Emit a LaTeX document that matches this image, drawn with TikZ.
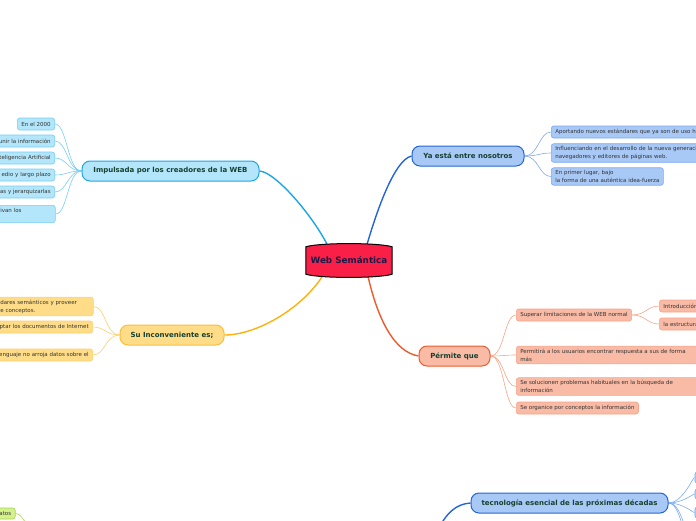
\documentclass[tikz,border=0pt]{standalone}
\usepackage{fontspec}
\setmainfont{DejaVu Sans}
\usetikzlibrary{backgrounds}
\definecolor{impfill}{HTML}{B3E6FB}
\definecolor{impline}{HTML}{1EA5E6}
\definecolor{impsub}{HTML}{76CFF3}
\definecolor{yafill}{HTML}{A8C8F6}
\definecolor{yaline}{HTML}{2466D8}
\definecolor{yasub}{HTML}{7EA9EE}
\definecolor{sufill}{HTML}{FFDD88}
\definecolor{suline}{HTML}{FFB10A}
\definecolor{sudraw}{HTML}{F8BE3C}
\definecolor{susub}{HTML}{FBD070}
\definecolor{pefill}{HTML}{F9BBA6}
\definecolor{peline}{HTML}{EE5A2A}
\definecolor{pesub}{HTML}{F7A487}
\definecolor{grfill}{HTML}{D5F18C}
\definecolor{grline}{HTML}{A2D64E}
\definecolor{wsfill}{HTML}{F91F47}
\definecolor{wstext}{HTML}{1A1A4A}
\definecolor{maintext}{HTML}{16402F}
\definecolor{subtext}{HTML}{333333}
\tikzset{
  mainbox/.style={draw, line width=1pt, rounded corners=8pt, minimum height=20pt,
    inner xsep=4pt, font=\fontsize{7}{8.4}\selectfont\bfseries, text=maintext},
  subbox/.style={draw, line width=0.6pt, rounded corners=2.5pt, minimum height=12pt,
    inner xsep=4pt, inner ysep=2.6pt, font=\fontsize{5.5}{8}\selectfont, text=subtext, align=left},
  impc/.style={subbox, fill=impfill, draw=impsub},
  yac/.style={subbox, fill=yafill, draw=yasub},
  suc/.style={subbox, fill=sufill, draw=susub},
  pec/.style={subbox, fill=pefill, draw=pesub},
  grc/.style={subbox, fill=grfill, draw=grline},
  mainconn/.style={line width=1.4pt},
  subconn/.style={line width=0.6pt},
  wsnode/.style={minimum width=86pt, minimum height=33pt, inner sep=0pt,
    font=\fontsize{8.8}{10}\selectfont\bfseries, text=wstext}
}
\begin{document}
\begin{tikzpicture}[x=1pt,y=-1pt]
\useasboundingbox (0,0) rectangle (696,520);
% central node
\node[wsnode] (ws) at (349,260.5) {Web Semántica};
% main nodes
\node[mainbox, fill=impfill, draw=impline, minimum width=177pt] (imp) at (170.5,171) {Impulsada por los creadores de la WEB};
\node[mainbox, fill=yafill, draw=yaline, minimum width=112pt] (ya) at (468,156) {Ya está entre nosotros};
\node[mainbox, fill=sufill, draw=sudraw, minimum width=104pt] (su) at (172,335) {Su Inconveniente es;};
\node[mainbox, fill=pefill, draw=peline, minimum width=71pt] (pe) at (454.5,356) {Pérmite que};
\node[mainbox, fill=yafill, draw=yaline, minimum width=197pt] (tec) at (569.5,503) {tecnología esencial de las próximas décadas};
% Impulsada children
\node[impc, anchor=east] (i1) at (55,124) {En el 2000};
\node[impc, anchor=east, text width=90pt, align=right] (i2) at (55,141) {unir la información};
\node[impc, anchor=east, text width=90pt, align=right] (i3) at (55,158) {teligencia Artificial};
\node[impc, anchor=east, text width=90pt, align=right] (i4) at (55,175) {edio y largo plazo};
\node[impc, anchor=east, text width=90pt, align=right] (i5) at (55,192) {as y jerarquizarlas};
\node[impc, anchor=west, text width=51pt] (i6) at (-4,214) {ivan los\\~};
% Ya children
\node[yac, anchor=west, text width=200pt] (y1) at (551,132) {Aportando nuevos estándares que ya son de uso ha};
\node[yac, anchor=west, text width=200pt] (y2) at (551,153) {Influenciando en el desarrollo de la nueva generaci\\navegadores y editores de páginas web.};
\node[yac, anchor=west] (y3) at (551,176.5) {En primer lugar, bajo\\la forma de una auténtica idea-fuerza};
% Su children
\node[suc, anchor=west, text width=89pt] (s1) at (-4,306.5) {dares semánticos y proveer\\e conceptos.};
\node[suc, anchor=east, text width=120pt, align=right] (s2) at (93,327) {ptar los documentos de Internet};
\node[suc, anchor=east, text width=120pt, align=right] (s3) at (93,355) {enguaje no arroja datos sobre el};
% Permite children
\node[pec, anchor=west] (p1) at (516,315) {Superar limitaciones de la WEB normal};
\node[pec, anchor=west, text width=200pt] (p2) at (516,355) {Permitirá a los usuarios encontrar respuesta a sus de forma\\más};
\node[pec, anchor=west, text width=200pt] (p3) at (516,386.5) {Se solucionen problemas habituales en la búsqueda de\\información};
\node[pec, anchor=west] (p4) at (516,408) {Se organice por conceptos la información};
\node[pec, anchor=west, text width=60pt] (q1) at (659,306) {Introducción};
\node[pec, anchor=west, text width=60pt] (q2) at (659,324) {la estructura};
% tecnologia children (visible edges only)
\node[yac, anchor=west, minimum width=20pt, minimum height=11pt] (t1) at (694.5,477.5) {};
\node[yac, anchor=west, minimum width=20pt, minimum height=10pt] (t2) at (694.5,494) {};
\node[yac, anchor=west, minimum width=20pt, minimum height=11pt] (t3) at (694.5,512.5) {};
\coordinate (td1) at (694,534);
\coordinate (td2) at (696,552);
\coordinate (tecsrc) at (436,534);
% green fragment
\node[grc, anchor=east, text width=40pt, align=right, minimum height=11pt] (g1) at (15.5,513.5) {atos};
\coordinate (gsrc) at (30,530);

\begin{pgfonlayer}{background}
% main connectors
\draw[mainconn, draw=impline] ([xshift=21pt]ws.north west) .. controls +(-15,-29) and +(16,1) .. (imp.east);
\draw[mainconn, draw=yaline] ([xshift=-25pt]ws.north east) .. controls +(10,-34) and +(-17,4) .. (ya.west);
\draw[mainconn, draw=suline] ([xshift=16pt]ws.south west) .. controls +(-22,33) and +(31,0) .. (su.east);
\draw[mainconn, draw=peline] ([xshift=-24pt]ws.south east) .. controls +(10,43) and +(-24,-4) .. (pe.west);
\draw[mainconn, draw=yaline] (tecsrc) .. controls +(10,-22) and +(-14,1) .. (tec.west);
% sub connectors
\foreach \c in {i1,i2,i3,i4,i5,i6}
  \draw[subconn, draw=impsub] (imp.west) .. controls +(-14,0) and +(12,0) .. (\c.east);
\foreach \c in {y1,y2,y3}
  \draw[subconn, draw=yasub] (ya.east) .. controls +(14,0) and +(-12,0) .. (\c.west);
\foreach \c in {s1,s2,s3}
  \draw[subconn, draw=susub] (su.west) .. controls +(-14,0) and +(12,0) .. (\c.east);
\foreach \c in {p1,p2,p3,p4}
  \draw[subconn, draw=pesub] (pe.east) .. controls +(14,0) and +(-12,0) .. (\c.west);
\foreach \c in {q1,q2}
  \draw[subconn, draw=pesub] (p1.east) .. controls +(14,0) and +(-12,0) .. (\c.west);
\foreach \c in {t1,t2,t3,td1,td2}
  \draw[subconn, draw=yasub] (tec.east) .. controls +(14,0) and +(-12,0) .. (\c);
\draw[subconn, draw=grline] (g1.east) .. controls +(6,0) and +(-4,-6) .. (gsrc);
% central shape
\draw[line width=1pt, fill=wsfill]
  ([yshift=-3pt]ws.north west) .. controls ([xshift=14pt,yshift=1.3pt]ws.north west) and ([xshift=-14pt,yshift=1.3pt]ws.north east) .. ([yshift=-3pt]ws.north east)
  -- ([yshift=3pt]ws.south east) .. controls ([xshift=-14pt,yshift=-1.3pt]ws.south east) and ([xshift=14pt,yshift=-1.3pt]ws.south west) .. ([yshift=3pt]ws.south west)
  -- cycle;
\end{pgfonlayer}
\end{tikzpicture}
\end{document}
